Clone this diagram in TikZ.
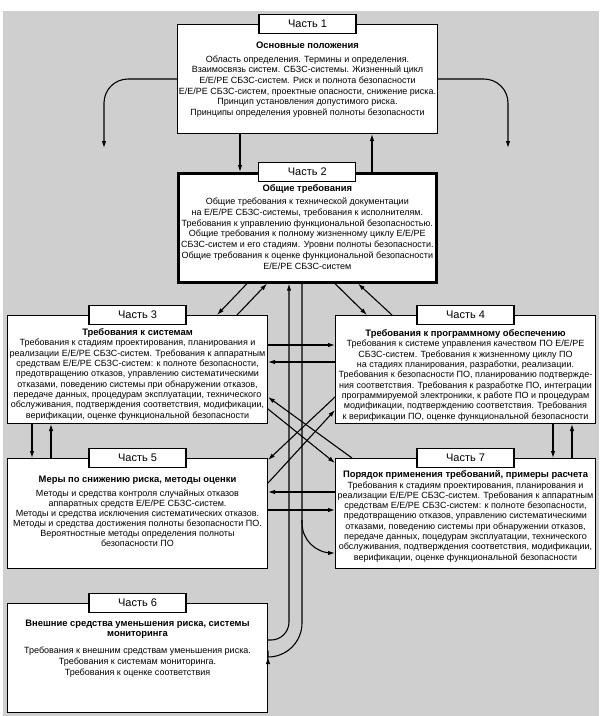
\documentclass[tikz,border=0pt]{standalone}
\usepackage{fontspec}
\setmainfont{Liberation Sans}
\usetikzlibrary{calc,arrows.meta}

\begin{document}
\begin{tikzpicture}[x=1pt, y=-1pt, every node/.style={font=\fontsize{9}{10.3}\selectfont}]
  % -----------------------------
  % SETTINGS
  % -----------------------------
  \def\bw{260}   % box width
  \def\tf{\fontsize{9.4}{10.3}\selectfont\bfseries} % titles

  % -----------------------------
  % STYLES
  % -----------------------------
  \tikzset{
    part/.style={draw, fill=white, line width=1pt, anchor=north west,
                 minimum width=\bw pt, minimum height=109pt, inner sep=0pt},
    lbl/.style={draw, fill=white, line width=1.3pt, minimum width=97pt,
                minimum height=19pt, inner sep=0pt, font=\fontsize{11}{12}\selectfont},
    txt/.style={align=center, inner sep=0pt, anchor=north},
    arr/.style={line width=1.1pt, -{Latex[length=7pt,width=4.5pt]}},
  }

  % -----------------------------
  % BACKGROUND
  % -----------------------------
  \useasboundingbox (0,0) rectangle (605,716);
  \fill[black!19] (3,11) rectangle (599,716);

  % -----------------------------
  % PARTS
  % -----------------------------
  \node[part] (p1) at (177,24) {};
  \node[part, line width=2.6pt, minimum width=258pt] (p2) at (177,172) {};
  \node[part, minimum height=108pt] (p3) at (7,315) {};
  \node[part, minimum height=108pt] (p4) at (335,315) {};
  \node[part, minimum height=110pt] (p5) at (7,458) {};
  \node[part, minimum height=110pt] (p7) at (335,458) {};
  \node[part] (p6) at (7,603) {};

  \node[lbl] (l1) at (p1.north) {Часть 1};
  \node[lbl] (l2) at (p2.north) {Часть 2};
  \node[lbl] (l3) at (p3.north) {Часть 3};
  \node[lbl] (l4) at (p4.north) {Часть 4};
  \node[lbl] (l5) at (p5.north) {Часть 5};
  \node[lbl] (l7) at (p7.north) {Часть 7};
  \node[lbl] (l6) at (p6.north) {Часть 6};

  % -----------------------------
  % TEXTS
  % -----------------------------
  \node[txt, font=\fontsize{9}{10.6}\selectfont] (t1) at ($(p1.north)+(0,17.5)$)
  {{\tf Основные положения}\\[3.5pt]
   Область определения. Термины и определения.\\
   Взаимосвязь систем. СБЗС-системы. Жизненный цикл\\
   Е/Е/РЕ СБЗС-систем. Риск и полнота безопасности\\
   Е/Е/РЕ СБЗС-систем, проектные опасности, снижение риска.\\
   Принцип установления допустимого риска.\\
   Принципы определения уровней полноты безопасности};

  \node[txt, font=\fontsize{9}{10.7}\selectfont] (t2) at ($(p2.north)+(0,12.5)$)
  {{\tf Общие требования}\\[2.5pt]
   Общие требования к технической документации\\
   на Е/Е/РЕ СБЗС-системы, требования к исполнителям.\\
   Требования к управлению функциональной безопасностью.\\
   Общие требования к полному жизненному циклу Е/Е/РЕ\\
   СБЗС-систем и его стадиям. Уровни полноты безопасности.\\
   Общие требования к оценке функциональной безопасности\\
   Е/Е/РЕ СБЗС-систем};

  \node[txt] (t3) at ($(p3.north)+(0,13.5)$)
  {{\tf Требования к системам}\\
   Требования к стадиям проектирования, планирования и\\
   реализации Е/Е/РЕ СБЗС-систем. Требования к аппаратным\\
   средствам Е/Е/РЕ СБЗС-систем: к полноте безопасности,\\
   предотвращению отказов, управлению систематическими\\
   отказами, поведению системы при обнаружении отказов,\\
   передаче данных, процедурам эксплуатации, технического\\
   обслуживания, подтверждения соответствия, модификации,\\
   верификации, оценке функциональной безопасности};

  \node[txt] (t4) at ($(p4.north)+(0,14.5)$)
  {{\tf Требования к программному обеспечению}\\
   Требования к системе управления качеством ПО Е/Е/РЕ\\
   СБЗС-систем. Требования к жизненному циклу ПО\\
   на стадиях планирования, разработки, реализации.\\
   Требования к безопасности ПО, планированию подтвержде-\\
   ния соответствия. Требования к разработке ПО, интеграции\\
   программируемой электроники, к работе ПО и процедурам\\
   модификации, подтверждению соответствия. Требования\\
   к верификации ПО, оценке функциональной безопасности};

  \node[txt, font=\fontsize{9}{10}\selectfont] (t5) at ($(p5.north)+(0,17.5)$)
  {{\tf Меры по снижению риска, методы оценки}\\[4pt]
   Методы и средства контроля случайных отказов\\
   аппаратных средств Е/Е/РЕ СБЗС-систем.\\
   Методы и средства исключения систематических отказов.\\
   Методы и средства достижения полноты безопасности ПО.\\
   Вероятностные методы определения полноты\\
   безопасности ПО};

  \node[txt] (t7) at ($(p7.north)+(0,12.5)$)
  {{\tf Порядок применения требований, примеры расчета}\\
   Требования к стадиям проектирования, планирования и\\
   реализации Е/Е/РЕ СБЗС-систем. Требования к аппаратным\\
   средствам Е/Е/РЕ СБЗС-систем: к полноте безопасности,\\
   предотвращению отказов, управлению систематическими\\
   отказами, поведению системы при обнаружении отказов,\\
   передаче данных, поцедурам эксплуатации, технического\\
   обслуживания, подтверждения соответствия, модификации,\\
   верификации, оценке функциональной безопасности};

  \node[txt, font=\fontsize{9}{10.8}\selectfont] (t6) at ($(p6.north)+(0,16.5)$)
  {{\tf Внешние средства уменьшения риска, системы}\\
   {\tf мониторинга}\\[6pt]
   Требования к внешним средствам уменьшения риска.\\
   Требования к системам мониторинга.\\
   Требования к оценке соответствия};

  % -----------------------------
  % CONNECTORS
  % -----------------------------
  % part 1 <-> part 2, part 1 to the sides
  \draw[arr] ($(p1.south west)+(63,0)$) -- ($(p2.north west)+(63,0)$);
  \draw[arr] ($(p2.north west)+(195,0)$) -- ($(p1.south west)+(195,0)$);
  \coordinate (e1) at (104,148);
  \coordinate (e2) at (508,148);
  \draw[arr, rounded corners=24pt] (p1.west) -| (e1);
  \draw[arr, rounded corners=24pt] (p1.east) -| (e2);

  % part 2 <-> parts 3, 4
  \draw[arr] ($(p2.south west)+(70,0)$) -- ($(p3.north west)+(210,0)$);
  \draw[arr] ($(p3.north west)+(230,0)$) -- ($(p2.south west)+(90,0)$);
  \draw[arr] ($(p2.south west)+(158,0)$) -- ($(p4.north west)+(32,0)$);
  \draw[arr] ($(p4.north west)+(57,0)$) -- ($(p2.south west)+(181,0)$);

  % part 2 <-> part 6, branch to part 7
  \draw[arr, rounded corners=18pt] ($(p6.north east)+(0,37)$) -| ($(p2.south west)+(112,0)$);
  \draw[arr, rounded corners=34pt] ($(p2.south west)+(125,0)$) |- ($(p6.north east)+(0,54)$);
  \coordinate (b7) at (302,520);
  \draw[arr, rounded corners=30pt] (b7) |- ($(p7.north west)+(0,95)$);

  % horizontal pairs
  \draw[arr] ($(p3.north east)+(0,30)$) -- ($(p4.north west)+(0,30)$);
  \draw[arr] ($(p4.north west)+(0,47)$) -- ($(p3.north east)+(0,47)$);
  \draw[arr] ($(p7.north west)+(0,34)$) -- ($(p5.north east)+(0,34)$);
  \draw[arr] ($(p5.north east)+(0,52)$) -- ($(p7.north west)+(0,52)$);

  % vertical pairs
  \draw[arr] ($(p3.south west)+(25,0)$) -- ($(p5.north west)+(25,0)$);
  \draw[arr] ($(p5.north west)+(44,0)$) -- ($(p3.south west)+(44,0)$);
  \draw[arr] ($(p4.south west)+(218,0)$) -- ($(p7.north west)+(218,0)$);
  \draw[arr] ($(p7.north west)+(237,0)$) -- ($(p4.south west)+(237,0)$);

  % crossing diagonals
  \draw[arr] ($(p7.north west)+(17,0)$) -- ($(p3.north east)+(0,82)$);
  \draw[arr] ($(p3.north east)+(0,94)$) -- ($(p7.north west)+(0,5)$);
  \draw[arr] ($(p4.north west)+(0,82)$) -- ($(p5.north east)+(0,2)$);
  \draw[arr] ($(p5.north east)+(0,25)$) -- ($(p4.north west)+(0,95)$);
\end{tikzpicture}
\end{document}
